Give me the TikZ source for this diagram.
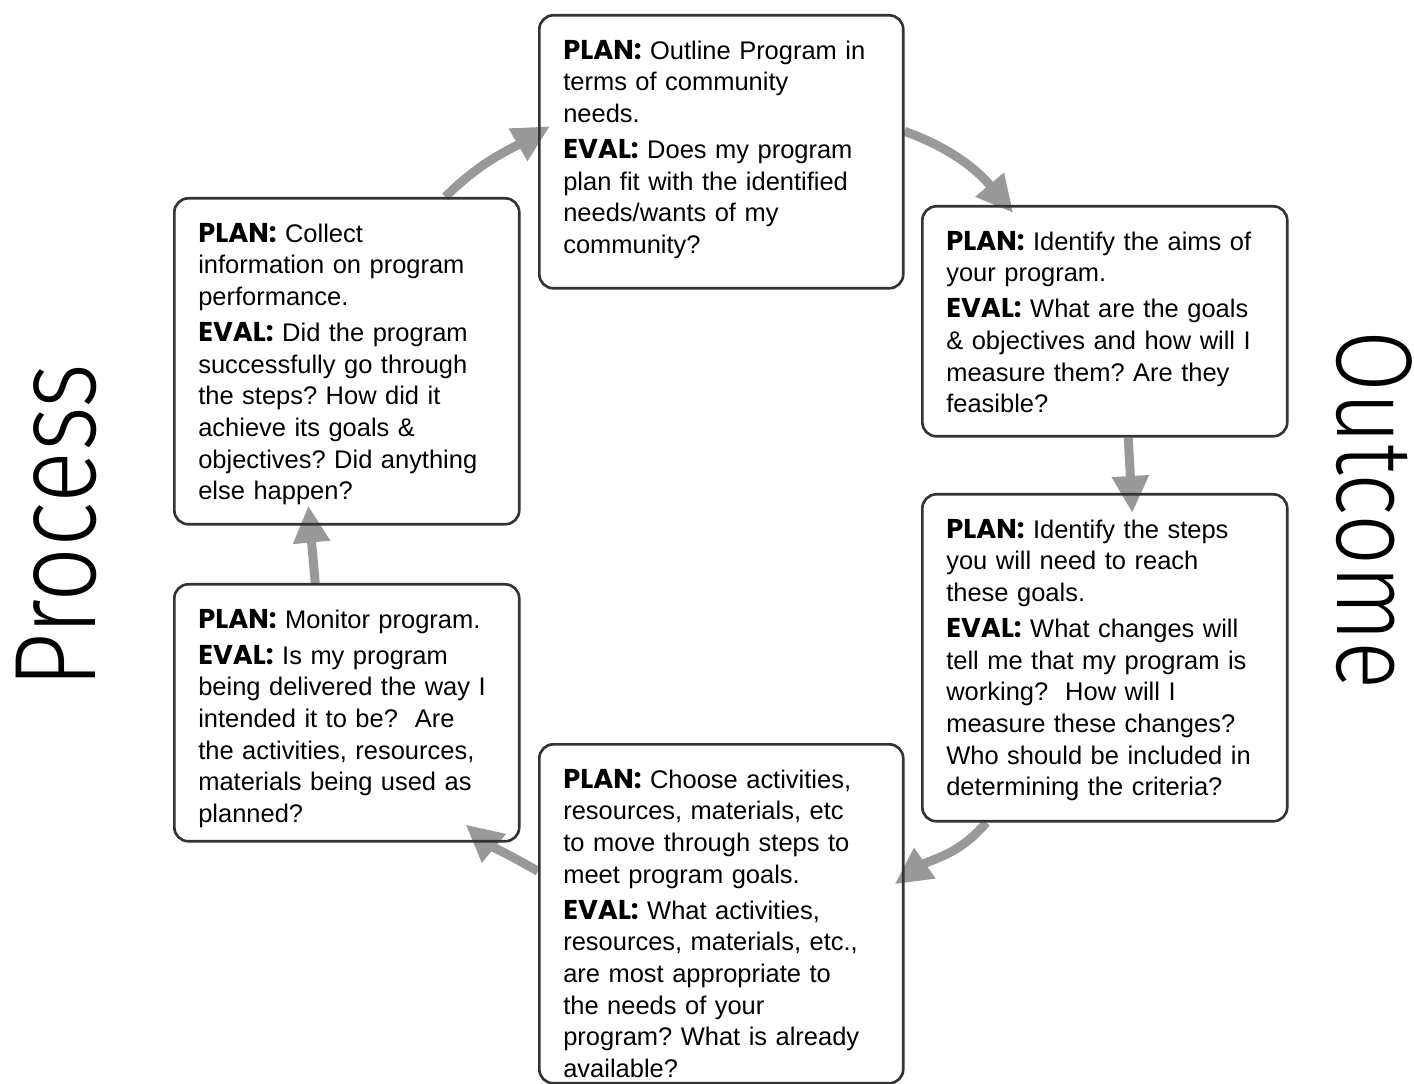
\documentclass[tikz,border=0pt]{standalone}
\usepackage{fontspec}
\usepackage{graphicx}
\setmainfont{Liberation Sans}
\newfontfamily\tagfont{Poppins}
\newfontfamily\handfont{Fira Sans Light}
\usetikzlibrary{arrows.meta,backgrounds}
\definecolor{boxline}{RGB}{51,51,51}
\definecolor{flowgray}{RGB}{153,153,153}
\newcommand{\plantag}{{\tagfont\bfseries\fontsize{15.5}{18}\selectfont PLAN:}}
\newcommand{\evaltag}{{\tagfont\bfseries\fontsize{15.5}{18}\selectfont EVAL:}}
\frenchspacing
\tikzset{
  stage/.style={draw=boxline, line width=1.5pt, rounded corners=0.28cm, anchor=north west,
    align=left, inner xsep=0.48cm, inner ysep=0.2cm, text height=0.68cm,
    font=\fontsize{14.5}{18}\selectfont},
  flow/.style={draw=flowgray, line width=0.18cm, -{Triangle[length=0.74cm,width=0.7cm]}},
  side/.style={font=\handfont\fontsize{55}{60}\selectfont}
}
\begin{document}
\begin{tikzpicture}[x=0.02cm,y=0.02cm]
    \useasboundingbox (0,0) rectangle (1414,-1084);
    \node[stage, text width=6.32cm, text depth=4.38cm] (plan) at (538,-14) {\plantag\ Outline Program in\\ terms of community\\ needs.\\[2.5pt] \evaltag\ Does my program\\ plan fit with the identified\\ needs/wants of my\\ community?};
    \node[stage, text width=6.34cm, text depth=3.52cm] (aims) at (921,-205) {\plantag\ Identify the aims of\\ your program.\\[2.5pt] \evaltag\ What are the goals\\ \& objectives and how will I\\ measure them? Are they\\ feasible?};
    \node[stage, text width=6.34cm, text depth=5.46cm] (steps) at (921,-493) {\plantag\ Identify the steps\\ you will need to reach\\ these goals.\\[2.5pt] \evaltag\ What changes will\\ tell me that my program is\\ working?~ How will I\\ measure these changes?\\ Who should be included in\\ determining the criteria?};
    \node[stage, text width=6.32cm, text depth=5.70cm] (act) at (538,-743) {\plantag\ Choose activities,\\ resources, materials, etc\\ to move through steps to\\ meet program goals.\\[2.5pt] \evaltag\ What activities,\\ resources, materials, etc.,\\ are most appropriate to\\ the needs of your\\ program? What is already\\ available?};
    \node[stage, text width=5.94cm, text depth=4.06cm] (monitor) at (173,-583) {\plantag\ Monitor program.\\[2.5pt] \evaltag\ Is my program\\ being delivered the way I\\ intended it to be?~ Are\\ the activities, resources,\\ materials being used as\\ planned?};
    \node[stage, text width=5.94cm, text depth=5.44cm] (collect) at (173,-197) {\plantag\ Collect\\ information on program\\ performance.\\[2.5pt] \evaltag\ Did the program\\ successfully go through\\ the steps? How did it\\ achieve its goals \&\\ objectives? Did anything\\ else happen?};
    \node[side, rotate=90] (process) at (56,-526) {\scalebox{1}[1.2]{Process}};
    \node[side, rotate=-90] (outcome) at (1374,-510) {\fontsize{51}{55}\selectfont\scalebox{1}[1.2]{Outcome}};
    \begin{scope}[on background layer]
        \draw[flow] ([yshift=0.41cm]plan.east) to[out=-20,in=130] ([xshift=-1.83cm,yshift=-0.16cm]aims.north);
        \draw[flow] ([xshift=0.47cm]aims.south) -- ([xshift=0.55cm,yshift=-0.4cm]steps.north);
        \draw[flow] ([xshift=-2.37cm]steps.south) to[out=-130,in=35] ([xshift=-0.2cm,yshift=0.59cm]act.east);
        \draw[flow] ([yshift=0.85cm]act.west) to[out=150,in=-40] ([xshift=-1.1cm,yshift=0.36cm]monitor.south east);
        \draw[flow] ([xshift=-0.63cm]monitor.north) -- ([xshift=-0.77cm,yshift=0.4cm]collect.south);
        \draw[flow] ([xshift=1.97cm]collect.north) to[out=45,in=-150] ([xshift=0.24cm,yshift=0.51cm]plan.west);
    \end{scope}
\end{tikzpicture}
\end{document}
